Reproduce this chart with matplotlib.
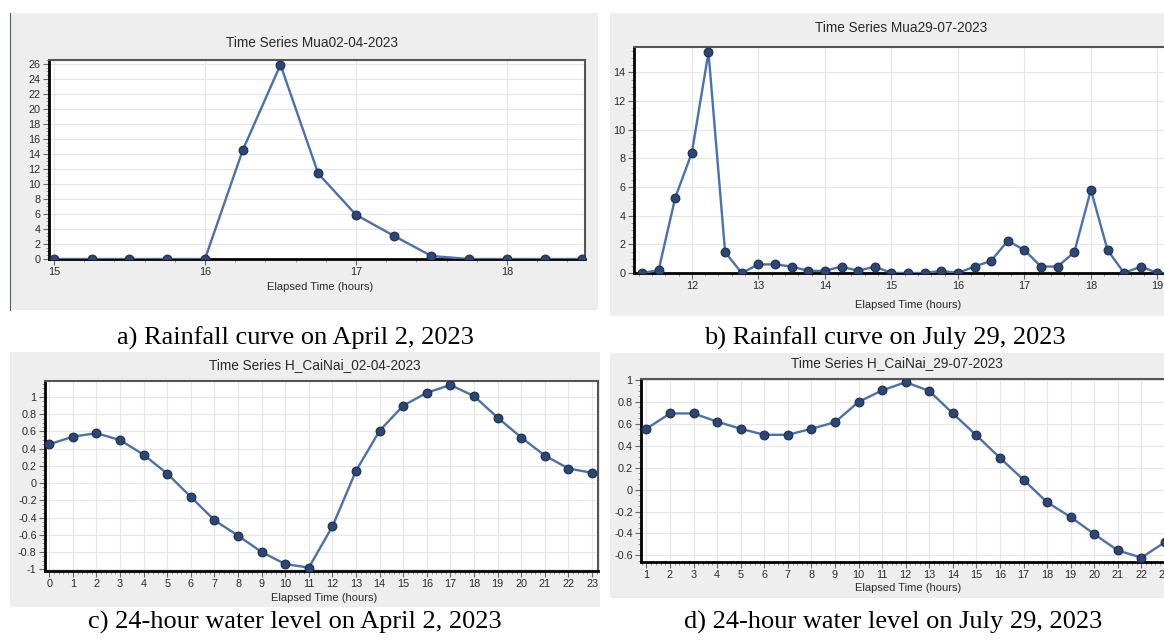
import matplotlib
matplotlib.use("Agg")
import matplotlib.pyplot as plt
from matplotlib.patches import Rectangle
from matplotlib.lines import Line2D
from matplotlib.ticker import AutoMinorLocator, FormatStrFormatter

# Data
rain_apr_hours = [15.0, 15.25, 15.5, 15.75, 16.0, 16.25, 16.5, 16.75, 17.0,
                  17.25, 17.5, 17.75, 18.0, 18.25, 18.5]
rain_apr = [0, 0, 0, 0, 0, 14.5, 25.9, 11.4, 5.9, 3.1, 0.4, 0, 0, 0, 0]

rain_jul_hours = [11.25, 11.5, 11.75, 12.0, 12.25, 12.5, 12.75, 13.0, 13.25,
                  13.5, 13.75, 14.0, 14.25, 14.5, 14.75, 15.0, 15.25, 15.5,
                  15.75, 16.0, 16.25, 16.5, 16.75, 17.0, 17.25, 17.5, 17.75,
                  18.0, 18.25, 18.5, 18.75, 19.0, 19.25]
rain_jul = [0, 0.2, 5.25, 8.4, 15.4, 1.45, 0, 0.6, 0.6, 0.45, 0.15, 0.15,
            0.45, 0.15, 0.45, 0, 0, 0, 0.15, 0, 0.45, 0.85, 2.25, 1.6, 0.45,
            0.45, 1.45, 5.8, 1.6, 0, 0.45, 0, 0]

wl_apr_hours = list(range(0, 24))
wl_apr = [0.45, 0.54, 0.58, 0.5, 0.33, 0.11, -0.16, -0.43, -0.61, -0.8,
          -0.94, -0.98, -0.5, 0.145, 0.61, 0.9, 1.05, 1.14, 1.01, 0.76,
          0.53, 0.32, 0.17, 0.12]

wl_jul_hours = list(range(1, 24))
wl_jul = [0.555, 0.695, 0.695, 0.62, 0.555, 0.5, 0.5, 0.555, 0.615, 0.8,
          0.905, 0.98, 0.9, 0.695, 0.495, 0.29, 0.09, -0.115, -0.25, -0.405,
          -0.555, -0.62, -0.48]

titles = ["Time Series Mua02-04-2023", "Time Series Mua29-07-2023",
          "Time Series H_CaiNai_02-04-2023", "Time Series H_CaiNai_29-07-2023"]
captions = ["a) Rainfall curve on April 2, 2023",
            "b) Rainfall curve on July 29, 2023",
            "c) 24-hour water level on April 2, 2023",
            "d) 24-hour water level on July 29, 2023"]

W, H = 1164, 643
SANS = ["Liberation Sans", "DejaVu Sans"]
SERIF = ["Liberation Serif", "DejaVu Serif"]
LINE = "#4a70b0"
DOT = "#2d4675"

fig = plt.figure(figsize=(W / 100, H / 100), dpi=100)
fig.patch.set_facecolor("white")


def fx(px):
    return px / W


def fy(py):
    return 1 - py / H


def grey_box(l, t, r, b):
    fig.add_artist(Rectangle((fx(l), fy(b)), fx(r - l), (b - t) / H,
                             transform=fig.transFigure, facecolor="#eeeeee",
                             edgecolor="none", zorder=0))


def make_ax(l, t, r, b):
    ax = fig.add_axes([fx(l), fy(b), fx(r - l), (b - t) / H])
    ax.set_facecolor("white")
    for side in ["left", "bottom"]:
        ax.spines[side].set_color("black")
        ax.spines[side].set_linewidth(2)
    for side in ["top", "right"]:
        ax.spines[side].set_color("#555555")
        ax.spines[side].set_linewidth(1.5)
    ax.grid(True, which="major", color="#e6e6e6", linewidth=0.8)
    ax.tick_params(which="major", length=4, width=0.8, color="#666666",
                   labelsize=7.8, labelcolor="#2a2a2a", pad=2)
    ax.tick_params(which="minor", length=2, width=0.6, color="#888888")
    ax.xaxis.set_minor_locator(AutoMinorLocator(5))
    ax.yaxis.set_minor_locator(AutoMinorLocator(4))
    ax.set_axisbelow(True)
    return ax


def draw(ax, x, y):
    ax.plot(x, y, color=LINE, linewidth=1.7, marker="o", markersize=6.3,
            markerfacecolor=DOT, markeredgecolor="#1c2e50",
            markeredgewidth=0.8, zorder=3)


def fix_labels(ax):
    for lab in ax.get_xticklabels() + ax.get_yticklabels():
        lab.set_family(SANS)


# grey screenshot backgrounds
grey_box(10, 13, 598, 310)
grey_box(610, 13, 1164, 316)
grey_box(10, 352, 600, 607)
grey_box(610, 353, 1164, 598)
fig.add_artist(Line2D([fx(10.5), fx(10.5)], [fy(13), fy(310)],
                      transform=fig.transFigure, color="#556070", lw=0.8))

# a) rainfall April
ax_a = make_ax(49, 60, 585, 259)
draw(ax_a, rain_apr_hours, rain_apr)
ax_a.set_xlim(14.967, 18.517)
ax_a.set_ylim(0, 26.53)
ax_a.set_xticks([15, 16, 17, 18])
ax_a.set_yticks(range(0, 27, 2))
fix_labels(ax_a)

# b) rainfall July
ax_b = make_ax(634, 47, 1190, 273)
draw(ax_b, rain_jul_hours, rain_jul)
ax_b.set_xlim(11.13, 19.49)
ax_b.set_ylim(0, 15.77)
ax_b.set_xticks(range(12, 20))
ax_b.set_yticks(range(0, 15, 2))
fix_labels(ax_b)

# c) water level April
ax_c = make_ax(45, 381, 598, 571)
draw(ax_c, wl_apr_hours, wl_apr)
ax_c.set_xlim(-0.18, 23.25)
ax_c.set_ylim(-1.02, 1.186)
ax_c.set_xticks(range(0, 24))
ax_c.set_yticks([-1, -0.8, -0.6, -0.4, -0.2, 0, 0.2, 0.4, 0.6, 0.8, 1])
ax_c.yaxis.set_major_formatter(FormatStrFormatter("%g"))
fix_labels(ax_c)

# d) water level July
ax_d = make_ax(641, 379, 1180, 562)
draw(ax_d, wl_jul_hours, wl_jul)
ax_d.set_xlim(0.77, 23.64)
ax_d.set_ylim(-0.66, 1.009)
ax_d.set_xticks(range(1, 24))
ax_d.set_yticks([-0.6, -0.4, -0.2, 0, 0.2, 0.4, 0.6, 0.8, 1])
ax_d.yaxis.set_major_formatter(FormatStrFormatter("%g"))
fix_labels(ax_d)

# chart titles and axis labels (placed like the screenshots)
title_pos = [(312, 43), (901, 28), (315, 365), (897, 363)]
xlabel_pos = [(320, 287), (908, 305), (324, 598), (908, 588)]
for t, (px, py) in zip(titles, title_pos):
    fig.text(fx(px), fy(py), t, ha="center", va="center", fontsize=9.8,
             family=SANS, color="#2a2a2a")
for (px, py) in xlabel_pos:
    fig.text(fx(px), fy(py), "Elapsed Time (hours)", ha="center",
             va="center", fontsize=8, family=SANS, color="#2a2a2a")

# figure captions
caption_pos = [(295, 338), (885, 338), (295, 622), (893, 622)]
for c, (px, py) in zip(captions, caption_pos):
    fig.text(fx(px), fy(py), c, ha="center", va="center", fontsize=19,
             family=SERIF, color="black")

fig.savefig("out.png", dpi=100)
